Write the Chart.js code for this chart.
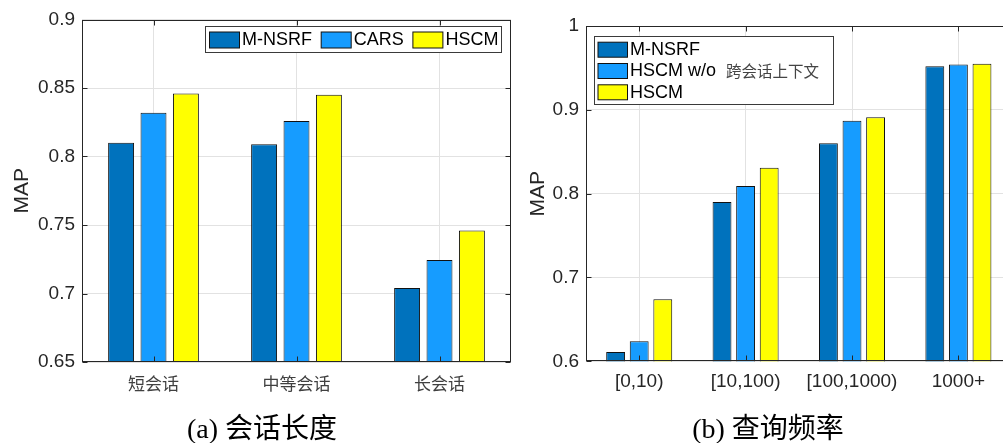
<!DOCTYPE html>
<html><head><meta charset="utf-8">
<script src="https://cdn.jsdelivr.net/npm/chart.js@4.4.0/dist/chart.umd.min.js"></script>
<style>
html,body{margin:0;padding:0;width:1003px;height:443px;overflow:hidden;background:#fff;}
#wrapA{position:absolute;left:0;top:0;width:516px;height:443px;}
#wrapB{position:absolute;left:516px;top:0;width:530px;height:443px;}
.cap{position:absolute;top:412px;font-family:"Liberation Serif","Noto Sans CJK SC",serif;font-size:28px;line-height:34px;color:#000;white-space:nowrap;transform:translateX(-50%);}
</style></head><body>
<div id="wrapA"><canvas id="a" width="516" height="443"></canvas></div>
<div id="wrapB"><canvas id="b" width="530" height="443"></canvas></div>
<div class="cap" style="left:262px">(a) 会话长度</div>
<div class="cap" style="left:768px">(b) 查询频率</div>
<script>
// ---- data ----
const sessionCategories = ['短会话', '中等会话', '长会话'];
const sessionMNSRF = [0.810, 0.809, 0.704];
const sessionCARS  = [0.832, 0.826, 0.7245];
const sessionHSCM  = [0.846, 0.845, 0.746];
const sessionTicks = [0.65, 0.7, 0.75, 0.8, 0.85, 0.9];

const freqCategories = ['[0,10)', '[10,100)', '[100,1000)', '1000+'];
const freqMNSRF   = [0.611, 0.790, 0.860, 0.952];
const freqNoCross = [0.624, 0.809, 0.887, 0.954];
const freqHSCM    = [0.674, 0.831, 0.891, 0.955];
const freqTicks = [0.6, 0.7, 0.8, 0.9, 1];

const seriesA = ['M-NSRF', 'CARS', 'HSCM'];
const seriesB = ['M-NSRF', 'HSCM w/o 跨会话上下文', 'HSCM'];

// ---- styles ----
const COLORS = ['#0072BD', '#169CFF', '#FFFF00'];
const AXIS = '#262626';
const GRID = '#e2e2e2';

function mkDatasets(labels, arrays) {
  return arrays.map((d, i) => ({
    label: labels[i], data: d, backgroundColor: COLORS[i],
    borderColor: '#111', borderWidth: 1, borderSkipped: 'start'
  }));
}

const framePlugin = {
  id: 'frame',
  afterDatasetsDraw(chart) {
    const {ctx, chartArea: a, scales} = chart;
    ctx.save();
    ctx.strokeStyle = AXIS; ctx.lineWidth = 1;
    const L = Math.round(a.left) + 0.5, R = Math.round(a.right) - 0.5;
    const T = Math.round(a.top) + 0.5, B = Math.round(a.bottom) - 0.5;
    ctx.strokeRect(L, T, R - L, B - T);
    const tl = 5;
    ctx.beginPath();
    scales.x.ticks.forEach((t, i) => {
      const x = Math.round(scales.x.getPixelForTick(i)) + 0.5;
      ctx.moveTo(x, B); ctx.lineTo(x, B - tl);
      ctx.moveTo(x, T); ctx.lineTo(x, T + tl);
    });
    scales.y.ticks.forEach((t, i) => {
      const y = Math.round(scales.y.getPixelForTick(i)) + 0.5;
      ctx.moveTo(L, y); ctx.lineTo(L + tl, y);
      ctx.moveTo(R, y); ctx.lineTo(R - tl, y);
    });
    ctx.stroke();
    ctx.restore();
  },
  afterDraw(chart) {
    const lg = chart.options.plugins.frame;
    if (!lg) return;
    const ctx = chart.ctx;
    const ds = chart.data.datasets;
    ctx.save();
    ctx.fillStyle = '#fff';
    ctx.fillRect(lg.box[0], lg.box[1], lg.box[2], lg.box[3]);
    ctx.strokeStyle = '#3a3a3a'; ctx.lineWidth = 1;
    ctx.strokeRect(lg.box[0] + 0.5, lg.box[1] + 0.5, lg.box[2] - 1, lg.box[3] - 1);
    const latin = '18px "Liberation Sans"';
    const cjk = '15.5px "Noto Sans CJK SC"';
    let x = lg.x0, y = lg.y0;
    ds.forEach((d) => {
      ctx.fillStyle = d.backgroundColor;
      ctx.fillRect(x + 0.5, y - lg.sh / 2 + 0.5, lg.sw, lg.sh);
      ctx.strokeStyle = '#111';
      ctx.strokeRect(x + 0.5, y - lg.sh / 2 + 0.5, lg.sw, lg.sh);
      let tx = x + lg.sw + 3;
      ctx.textBaseline = 'middle'; ctx.textAlign = 'left';
      const m = d.label.match(/^(.*?)\s*([\u4e00-\u9fff]+)$/);
      let w;
      if (m) {
        ctx.font = latin; ctx.fillStyle = '#000';
        ctx.fillText(m[1], tx, y + 1);
        const w1 = ctx.measureText(m[1]).width;
        ctx.font = cjk; ctx.fillStyle = '#444';
        ctx.fillText(m[2], tx + w1 + 10, y + 1);
        w = w1 + 10 + ctx.measureText(m[2]).width;
      } else {
        ctx.font = latin; ctx.fillStyle = '#000';
        ctx.fillText(d.label, tx, y + 1);
        w = ctx.measureText(d.label).width;
      }
      if (lg.horizontal) x = tx + w + 8.7; else y += lg.dy;
    });
    ctx.restore();
  }
};

function makeChart(id, cats, datasets, o) {
  return new Chart(document.getElementById(id), {
    type: 'bar',
    data: { labels: cats, datasets: datasets },
    plugins: [framePlugin],
    options: {
      responsive: false, animation: false, devicePixelRatio: 1,
      layout: { padding: { left: 0, top: o.top, right: o.right, bottom: 0 } },
      datasets: { bar: { categoryPercentage: o.catPct, barPercentage: 0.8 } },
      plugins: { legend: { display: false }, tooltip: { enabled: false }, frame: o.legend },
      scales: {
        x: {
          offset: true,
          grid: { offset: false, color: GRID, drawTicks: false },
          border: { display: false },
          ticks: { padding: o.xPad, color: o.xColor, autoSkip: false, maxRotation: 0,
                   font: { family: o.xFont, size: o.xSize } },
          afterFit: s => { s.height = o.xHeight; }
        },
        y: {
          min: o.ticks[0], max: o.ticks[o.ticks.length - 1],
          afterBuildTicks: s => { s.ticks = o.ticks.map(v => ({ value: v })); },
          grid: { color: GRID, drawTicks: false },
          border: { display: false },
          ticks: { padding: 7, color: AXIS, font: { family: '"Liberation Sans"', size: 19 },
                   callback: v => String(+Number(v).toFixed(2)) },
          title: { display: true, text: 'MAP', color: AXIS,
                   font: { family: '"Liberation Sans"', size: 21 }, padding: { top: o.titlePad, bottom: 0 } },
          afterFit: s => { s.width = o.yWidth; }
        }
      }
    }
  });
}

makeChart('a', sessionCategories, mkDatasets(seriesA, [sessionMNSRF, sessionCARS, sessionHSCM]), {
  top: 19.5, right: 5, catPct: 0.68, xPad: 11, xColor: '#404040',
  xFont: '"Noto Sans CJK SC"', xSize: 17, xHeight: 81, ticks: sessionTicks,
  titlePad: 10, yWidth: 82,
  legend: { box: [205, 26, 297, 27], x0: 209, y0: 39.5, sw: 30, sh: 16, horizontal: true }
});

makeChart('b', freqCategories, mkDatasets(seriesB, [freqMNSRF, freqNoCross, freqHSCM]), {
  top: 26, right: 34.4, catPct: 0.665, xPad: 9, xColor: AXIS,
  xFont: '"Liberation Sans"', xSize: 19, xHeight: 81.7, ticks: freqTicks,
  titlePad: 10, yWidth: 70,
  legend: { box: [78, 36, 240, 69], x0: 81.5, y0: 49.2, sw: 29.5, sh: 15, dy: 21.3, horizontal: false }
});
</script>
</body></html>
